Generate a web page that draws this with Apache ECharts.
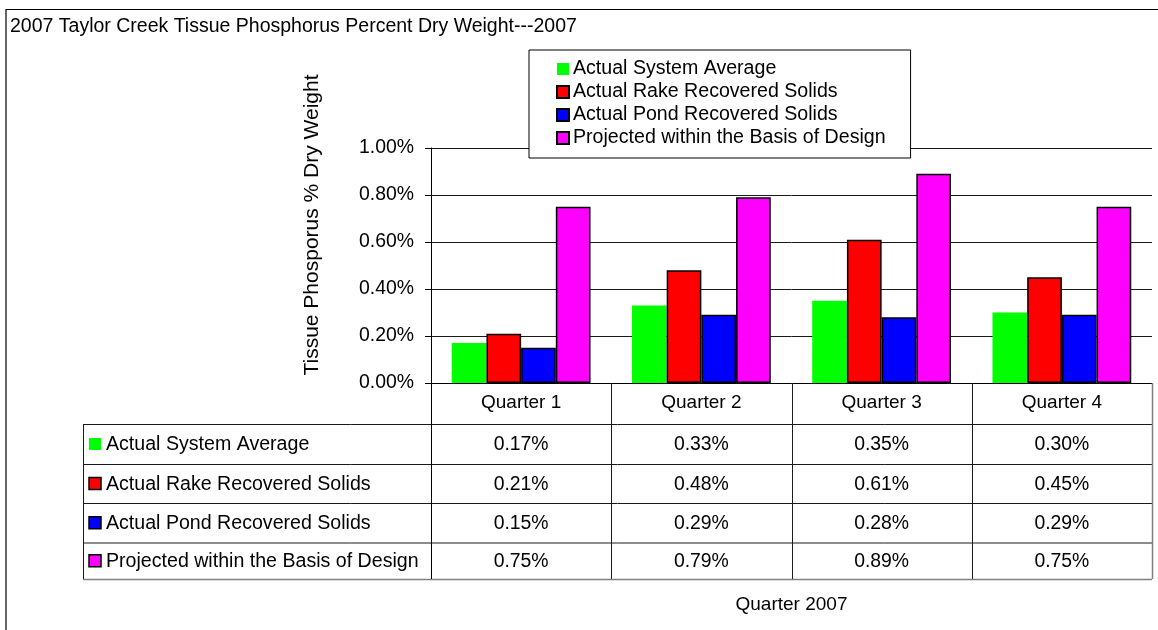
<!DOCTYPE html>
<html>
<head>
<meta charset="utf-8">
<title>2007 Taylor Creek Tissue Phosphorus</title>
<script src="https://cdn.jsdelivr.net/npm/echarts@6/dist/echarts.min.js"></script>
<style>
  html, body { margin: 0; padding: 0; background: #fff; }
  #chart { width: 1158px; height: 630px; }
</style>
</head>
<body>
<div id="chart"></div>
<script>
// Quarterly tissue phosphorus (% dry weight), Taylor Creek 2007
const categories = ['Quarter 1', 'Quarter 2', 'Quarter 3', 'Quarter 4'];
const seriesNames = [
  'Actual System Average',
  'Actual Rake Recovered Solids',
  'Actual Pond Recovered Solids',
  'Projected within the Basis of Design'
];
const systemAverage = [0.17, 0.33, 0.35, 0.30];
const rakeSolids = [0.21, 0.48, 0.61, 0.45];
const pondSolids = [0.15, 0.29, 0.28, 0.29];
const designBasis = [0.75, 0.79, 0.89, 0.75];
const seriesValues = [systemAverage, rakeSolids, pondSolids, designBasis];
const seriesColors = ['#00FF00', '#FF0000', '#0000FF', '#FF00FF'];
const seriesBordered = [false, true, true, true];

const FONT = "'Liberation Sans', Arial, sans-serif";
const fmtPct = v => v.toFixed(2) + '%';

const chart = echarts.init(document.getElementById('chart'), null, { renderer: 'canvas' });

const option = {
  animation: false,
  backgroundColor: '#fff',
  textStyle: { fontFamily: FONT, color: '#000' },
  title: {
    text: '2007 Taylor Creek Tissue Phosphorus Percent Dry Weight---2007',
    left: 10, top: 17, padding: 0,
    textStyle: { fontFamily: FONT, fontSize: 19.5, fontWeight: 'normal', color: '#000' }
  },
  legend: {
    orient: 'vertical',
    left: 529, top: 50,
    padding: [9, 25, 10, 27],
    backgroundColor: '#fff',
    borderColor: '#000',
    borderWidth: 1,
    itemWidth: 12, itemHeight: 12, itemGap: 3,
    icon: 'rect',
    textStyle: { fontFamily: FONT, fontSize: 19.6, color: '#000', padding: [0, 0, 0, -1] },
    data: seriesNames
  },
  grid: { left: 431, right: 6, top: 148, bottom: 247, containLabel: false },
  xAxis: {
    type: 'category',
    data: categories,
    boundaryGap: true,
    name: 'Quarter 2007',
    nameLocation: 'middle',
    nameGap: 212,
    nameTextStyle: { fontFamily: FONT, fontSize: 19, color: '#000', verticalAlign: 'top' },
    axisLine: { show: true, lineStyle: { color: '#000', width: 1 } },
    axisTick: { show: false },
    axisLabel: { margin: 10, fontFamily: FONT, fontSize: 19, color: '#000', verticalAlign: 'top' },
    splitLine: { show: false }
  },
  yAxis: {
    type: 'value',
    min: 0, max: 1, interval: 0.2,
    axisLine: { show: true, lineStyle: { color: '#000', width: 1 } },
    axisTick: { show: true, length: 6, lineStyle: { color: '#000' } },
    axisLabel: { margin: 17, fontFamily: FONT, fontSize: 19.4, color: '#000', formatter: v => fmtPct(v) },
    splitLine: { show: true, lineStyle: { color: '#1a1a1a', width: 1 } }
  },
  series: seriesNames.map((name, i) => ({
    name: name,
    type: 'bar',
    data: seriesValues[i],
    barGap: '0%',
    barCategoryGap: '23%',
    itemStyle: {
      color: seriesColors[i],
      borderColor: seriesBordered[i] ? '#000' : seriesColors[i],
      borderWidth: seriesBordered[i] ? 1.5 : 0
    },
    emphasis: { disabled: true }
  }))
};

chart.setOption(option);

// Data table under the plot, aligned to the category axis
const centers = categories.map(c => chart.convertToPixel({ xAxisIndex: 0 }, c));
const half = (centers[1] - centers[0]) / 2;
const tableLeft = 83;
const plotLeft = centers[0] - half;
const tableRight = centers[centers.length - 1] + half;
const axisY = chart.convertToPixel({ yAxisIndex: 0 }, 0);
const rowEdges = [424, 464, 503, 542.5, 579];

const graphics = [];
const line = (x1, y1, x2, y2, color, w) => graphics.push({
  type: 'line', silent: true, z: 10,
  shape: { x1, y1, x2, y2 },
  style: { stroke: color, lineWidth: w || 1 }
});

// outer chart frame
graphics.push({
  type: 'rect', silent: true, z: 0,
  shape: { x: 6, y: 9.5, width: 1200, height: 700 },
  style: { fill: 'none', stroke: '#000', lineWidth: 1.2 }
});

// y-axis title
graphics.push({
  type: 'text', silent: true, z: 10,
  x: 312, y: 225, rotation: Math.PI / 2,
  style: {
    text: 'Tissue Phosporus % Dry Weight',
    font: '21px ' + FONT, fill: '#000',
    align: 'center', verticalAlign: 'middle'
  }
});

// horizontal rules
for (let r = 0; r < rowEdges.length - 1; r++) {
  line(tableLeft, rowEdges[r] + 0.5, tableRight, rowEdges[r] + 0.5, '#1a1a1a');
}
line(tableLeft, rowEdges[4] + 0.5, tableRight, rowEdges[4] + 0.5, '#808080', 1.5);
// vertical rules
line(tableLeft + 0.5, rowEdges[0], tableLeft + 0.5, rowEdges[4], '#1a1a1a');
line(Math.round(plotLeft) + 0.5, axisY, Math.round(plotLeft) + 0.5, rowEdges[4], '#000');
for (let i = 0; i < centers.length - 1; i++) {
  const x = Math.round(centers[i] + half) + 0.5;
  line(x, axisY, x, rowEdges[4], '#1a1a1a');
}
line(Math.round(tableRight) + 0.5, axisY, Math.round(tableRight) + 0.5, rowEdges[4], '#808080', 1.5);

// row keys, names and values
seriesNames.forEach((name, r) => {
  const cy = (rowEdges[r] + rowEdges[r + 1]) / 2;
  graphics.push({
    type: 'rect', silent: true, z: 11,
    shape: { x: 89, y: cy - 6, width: 12, height: 12 },
    style: {
      fill: seriesColors[r],
      stroke: seriesBordered[r] ? '#000' : null,
      lineWidth: seriesBordered[r] ? 1.5 : 0
    }
  });
  graphics.push({
    type: 'text', silent: true, z: 11,
    x: 106, y: cy + 1,
    style: { text: name, font: '19.6px ' + FONT, fill: '#000', align: 'left', verticalAlign: 'middle' }
  });
  seriesValues[r].forEach((v, i) => {
    graphics.push({
      type: 'text', silent: true, z: 11,
      x: centers[i], y: cy + 1,
      style: { text: fmtPct(v), font: '19.4px ' + FONT, fill: '#000', align: 'center', verticalAlign: 'middle' }
    });
  });
});

chart.setOption({ graphic: graphics });
</script>
</body>
</html>
